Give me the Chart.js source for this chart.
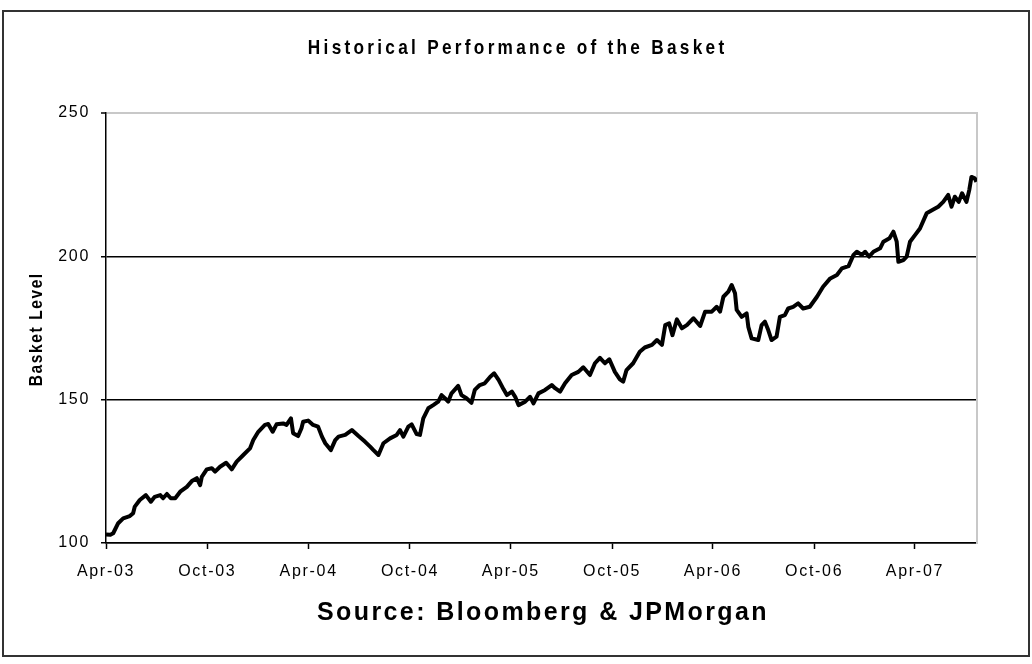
<!DOCTYPE html>
<html>
<head>
<meta charset="utf-8">
<title>Historical Performance of the Basket</title>
<script src="https://cdn.jsdelivr.net/npm/chart.js@4.4.1/dist/chart.umd.min.js"></script>
<style>
  html, body { margin: 0; padding: 0; background: #fff; }
  canvas { display: block; }
</style>
</head>
<body>
<canvas id="basketChart" width="1032" height="664"></canvas>
<script>
// days counted from 1-Apr-2003
const dayOffsets = [
    0, 8, 13, 22, 31, 43, 49, 52, 61, 72, 81, 88, 98, 103, 110, 117, 125, 134, 146, 155,
    164, 170, 173, 182, 191, 197, 206, 217, 227, 236, 248, 260, 266, 275, 287, 293, 301, 308, 320, 326,
    334, 338, 347, 353, 356, 365, 374, 383, 390, 396, 406, 414, 420, 432, 444, 456, 468, 477, 483, 492,
    501, 513, 525, 531, 537, 546, 552, 561, 567, 573, 582, 591, 600, 606, 612, 618, 624, 636, 642, 651,
    660, 666, 675, 684, 694, 701, 709, 718, 724, 733, 739, 745, 757, 766, 772, 781, 793, 805, 811, 820,
    829, 841, 853, 862, 874, 883, 892, 901, 909, 919, 928, 934, 940, 952, 964, 973, 986, 995, 1004, 1010,
    1017, 1023, 1031, 1040, 1049, 1061, 1073, 1082, 1094, 1103, 1109, 1115, 1124, 1130, 1136, 1139, 1148, 1157, 1160, 1166,
    1178, 1184, 1190, 1196, 1202, 1211, 1217, 1226, 1232, 1241, 1250, 1259, 1271, 1284, 1295, 1308, 1320, 1329, 1341, 1350,
    1356, 1365, 1371, 1378, 1386, 1398, 1404, 1415, 1422, 1428, 1431, 1440, 1446, 1452, 1461, 1470, 1482, 1494, 1503, 1512,
    1521, 1527, 1533, 1540, 1546, 1554, 1559, 1563, 1569, 1572
];

const basketLevels = [
    103.0, 102.9, 103.4, 106.9, 108.6, 109.4, 110.4, 112.7, 115.0, 116.7, 114.4, 116.1, 116.7, 115.6, 117.1, 115.6, 115.6, 117.9, 119.6, 121.6,
    122.6, 120.2, 123.1, 125.7, 126.1, 124.9, 126.6, 128.0, 125.7, 128.4, 130.7, 133.0, 135.9, 138.8, 141.2, 141.5, 138.8, 141.4, 141.7, 141.2,
    143.5, 138.3, 137.3, 140.0, 142.3, 142.7, 141.2, 140.6, 137.1, 134.8, 132.4, 135.9, 137.1, 137.7, 139.4, 137.3, 135.3, 133.6, 132.4, 130.7,
    134.8, 136.5, 137.7, 139.4, 137.1, 140.6, 141.4, 138.0, 137.7, 143.5, 147.0, 148.1, 149.3, 151.6, 150.5, 149.3, 152.2, 154.8, 151.6, 150.5,
    148.9, 153.4, 155.1, 155.7, 158.0, 159.2, 156.9, 153.6, 151.6, 152.8, 151.0, 148.1, 149.3, 151.0, 148.7, 152.2, 153.4, 155.1, 154.0, 152.8,
    155.7, 158.6, 159.7, 161.3, 158.6, 162.7, 164.6, 162.7, 164.1, 159.7, 157.1, 156.3, 160.3, 162.7, 166.7, 168.2, 169.1, 170.8, 169.1, 176.0,
    176.6, 172.5, 178.0, 174.9, 176.0, 178.4, 175.7, 180.7, 180.7, 182.4, 180.7, 185.9, 187.7, 190.0, 187.1, 181.3, 178.9, 180.1, 175.4, 171.4,
    170.8, 176.0, 177.2, 174.3, 170.8, 172.0, 178.9, 179.5, 181.8, 182.4, 183.6, 181.8, 182.4, 185.9, 189.4, 192.3, 193.5, 195.8, 196.6, 200.5,
    201.6, 200.5, 201.6, 199.9, 201.6, 202.8, 205.1, 206.3, 208.6, 205.1, 198.1, 198.7, 199.9, 205.1, 207.4, 209.7, 215.0, 216.3, 217.3, 219.0,
    221.4, 217.3, 220.8, 219.0, 222.0, 219.0, 223.1, 227.7, 227.2, 226.0
];

const tickLabels = ['Apr-03', 'Oct-03', 'Apr-04', 'Oct-04', 'Apr-05', 'Oct-05', 'Apr-06', 'Oct-06', 'Apr-07'];
const tickDays = [0, 183, 366, 549, 731, 914, 1096, 1279, 1461];
const lastDay = 1573;

const yTicks = [100, 150, 200, 250];

const chartTitle = 'Historical Performance of the Basket';
const yTitle = 'Basket Level';
const sourceNote = 'Source: Bloomberg & JPMorgan';

const sans = '"Liberation Sans", Arial, sans-serif';

// no narrow font installed, so squeeze a bold sans horizontally
function narrowText(c, text, x, y, angle, size, spacing) {
    c.save();
    c.translate(x, y);
    c.rotate(angle);
    c.scale(0.82, 1);
    c.font = 'bold ' + size + 'px ' + sans;
    c.letterSpacing = spacing + 'px';
    c.textAlign = 'center';
    c.textBaseline = 'middle';
    c.fillStyle = '#000';
    c.fillText(text, spacing / 2, 0);
    c.restore();
}

// frame, titles and source line are drawn straight on the canvas
const decorations = {
    id: 'decorations',
    beforeDraw(chart) {
        const c = chart.ctx;
        c.save();
        c.fillStyle = '#fff';
        c.fillRect(0, 0, chart.width, chart.height);
        c.strokeStyle = '#333';
        c.lineWidth = 2;
        c.strokeRect(3, 11, chart.width - 6, chart.height - 19);
        c.restore();
        c.letterSpacing = '1.7px';
    },
    afterDraw(chart) {
        const c = chart.ctx;
        narrowText(c, chartTitle, chart.width / 2, 48, 0, 21, 4);
        narrowText(c, yTitle, 37, 330, -Math.PI / 2, 19, 1.9);

        c.save();
        c.fillStyle = '#000';
        c.textAlign = 'center';
        c.textBaseline = 'middle';
        c.font = 'bold 25px ' + sans;
        c.letterSpacing = '2.4px';
        c.fillText(sourceNote, 543, 613);
        c.restore();
    }
};

const ctx = document.getElementById('basketChart');
new Chart(ctx, {
    type: 'line',
    data: {
        datasets: [{
            label: 'Basket Level',
            data: dayOffsets.map((d, i) => ({ x: d, y: basketLevels[i] })),
            borderColor: '#000',
            borderWidth: 4,
            borderJoinStyle: 'round',
            pointRadius: 0,
            tension: 0,
            fill: false
        }]
    },
    options: {
        responsive: false,
        animation: false,
        devicePixelRatio: 1,
        layout: {
            padding: { top: 113, right: 55, bottom: 76, left: 20 }
        },
        plugins: {
            legend: { display: false },
            tooltip: { enabled: false }
        },
        scales: {
            x: {
                type: 'linear',
                min: 0,
                max: lastDay,
                afterBuildTicks: scale => {
                    scale.ticks = tickDays.map(v => ({ value: v }));
                },
                afterFit: scale => { scale.height = 45; },
                ticks: {
                    autoSkip: false,
                    maxRotation: 0,
                    padding: 13,
                    color: '#000',
                    font: { family: sans, size: 16 },
                    callback: (value) => tickLabels[tickDays.indexOf(value)]
                },
                grid: {
                    drawOnChartArea: false,
                    drawTicks: true,
                    tickLength: 6,
                    tickColor: '#000',
                    tickWidth: 1.5
                },
                border: { display: true, color: '#000', width: 1.5 }
            },
            y: {
                min: 100,
                max: 250,
                afterBuildTicks: scale => {
                    scale.ticks = yTicks.map(v => ({ value: v }));
                },
                afterFit: scale => { scale.width = 86; },
                ticks: {
                    padding: 11,
                    color: '#000',
                    font: { family: sans, size: 16 }
                },
                grid: {
                    color: c => (c.tick && c.tick.value === 250 ? '#c8c8c8' : '#000'),
                    lineWidth: c => (c.tick && c.tick.value === 250 ? 2 : 1.5),
                    tickLength: 5,
                    tickColor: '#000',
                    tickWidth: 1.5
                },
                border: { display: true, color: '#000', width: 1.5 }
            },
            yRight: {
                position: 'right',
                min: 0,
                max: 1,
                afterFit: scale => { scale.width = 0; },
                ticks: { display: false },
                grid: { display: false },
                border: { display: true, color: '#c8c8c8', width: 2 }
            }
        }
    },
    plugins: [decorations]
});
</script>
</body>
</html>
